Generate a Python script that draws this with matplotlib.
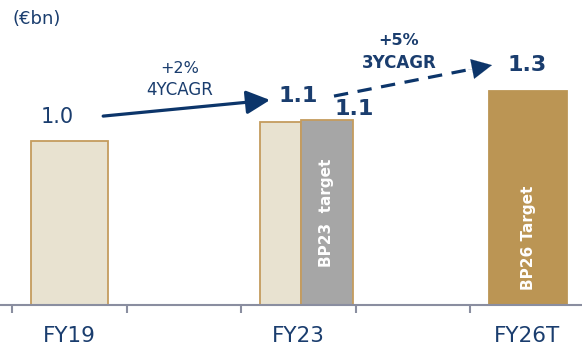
import matplotlib
matplotlib.use("Agg")
import matplotlib.pyplot as plt

# ---- data ----
categories = ["FY19", "", "FY23", "", "FY26T"]
series_names = ["FY19", "FY23", "BP23 target", "FY26T"]
values = [1.0, 1.116, 1.128, 1.305]
value_labels = ["1.0", "1.1", "1.1", "1.3"]
bar_texts = ["", "", "BP23  target", "BP26 Target"]
cagr1 = ["+2%", "4YCAGR"]
cagr2 = ["+5%", "3YCAGR"]
unit_label = "(€bn)"

# ---- layout / style ----
lefts = [-0.334, 1.666, 2.020, 3.666]
widths = [0.672, 0.354, 0.458, 0.681]
text_base = [0, 0, 0.232, 0.09]
faces = ["#e8e2d0", "#e8e2d0", "#a6a6a6", "#bb9554"]
edges = ["#c49c5e", "#c49c5e", "#c49c5e", "#bb9554"]
navy = "#1a3d6e"
arrow_c = "#0c356a"
spine_c = "#8a8ea0"

fig = plt.figure(figsize=(5.82, 3.5), dpi=100)
ax = fig.add_axes([0, 0, 1, 1])
ax.set_xlim(-0.605, 4.478)
ax.set_ylim(-0.2744, 1.860)

ax.bar(lefts, values, width=widths, align="edge", color=faces,
       edgecolor=edges, linewidth=1.3, zorder=2)

for s in ["left", "top", "right"]:
    ax.spines[s].set_visible(False)
ax.spines["bottom"].set_position(("data", 0))
ax.spines["bottom"].set_color(spine_c)
ax.spines["bottom"].set_linewidth(1.5)
ax.spines["bottom"].set_zorder(3)
ax.set_yticks([])
ax.set_xticks([i - 0.5 for i in range(len(categories))])
ax.set_xticklabels([])
ax.tick_params(axis="x", direction="out", length=6, width=1.5, color=spine_c)

for i, c in enumerate(categories):
    if c:
        ax.text(i, -0.19, c, ha="center", va="center", fontsize=15.5, color=navy)

# value labels
lab_pos = [(-0.107, 1.146, "normal", 15), (2.0, 1.274, "bold", 16),
           (2.49, 1.195, "bold", 16), (4.0, 1.463, "bold", 16)]
for (x, y, w, fs), t in zip(lab_pos, value_labels):
    ax.text(x, y, t, ha="center", va="center", fontsize=fs, fontweight=w, color=navy)

# texts inside bars
for l, w, b, t in zip(lefts, widths, text_base, bar_texts):
    if t:
        ax.text(l + w / 2, b, t, rotation=90, ha="center", va="bottom",
                fontsize=11, fontweight="bold", color="white", zorder=4)

# arrow 1 (solid)
ax.annotate("", xy=(1.753, 1.25), xytext=(0.296, 1.152),
            arrowprops=dict(arrowstyle="-|>,head_length=0.9,head_width=0.45",
                            color=arrow_c, lw=2.3, shrinkA=0, shrinkB=0,
                            mutation_scale=16))
ax.text(0.967, 1.445, cagr1[0], ha="center", va="center", fontsize=11.5, color=navy)
ax.text(0.967, 1.311, cagr1[1], ha="center", va="center", fontsize=12, color=navy)

# arrow 2 (dashed)
x0, y0, x1, y1 = 2.312, 1.274, 3.692, 1.463
ax.plot([x0, x0 + (x1 - x0) * 0.88], [y0, y0 + (y1 - y0) * 0.88], color=arrow_c,
        lw=2.3, linestyle=(0, (4.5, 3)))
ax.annotate("", xy=(x1, y1), xytext=(x0 + (x1 - x0) * 0.85, y0 + (y1 - y0) * 0.85),
            arrowprops=dict(arrowstyle="-|>,head_length=0.9,head_width=0.45",
                            color=arrow_c, lw=0.1, shrinkA=0, shrinkB=0,
                            mutation_scale=16))
ax.text(2.88, 1.616, cagr2[0], ha="center", va="center", fontsize=11.5,
        fontweight="bold", color=navy)
ax.text(2.88, 1.476, cagr2[1], ha="center", va="center", fontsize=12,
        fontweight="bold", color=navy)

fig.text(12 / 582, 1 - 19 / 350, unit_label, ha="left", va="center", fontsize=13, color=navy)

fig.savefig("out.png", dpi=100)
